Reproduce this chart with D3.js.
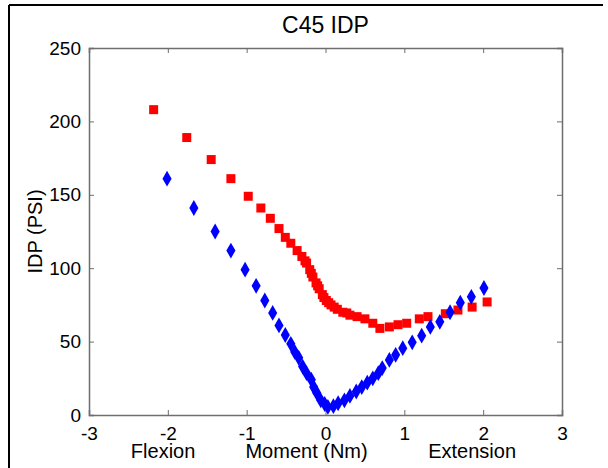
<!DOCTYPE html>
<html>
<head>
<meta charset="utf-8">
<script src="https://cdn.jsdelivr.net/npm/d3@7"></script>
<style>
  body { margin: 0; background: #fff; }
  svg { display: block; font-family: "Liberation Sans", Arial, sans-serif; }
</style>
</head>
<body>
<svg width="608" height="468"></svg>
<script>
// red squares (upper curve)
const redX = [-2.18, -1.76, -1.45, -1.2, -0.98, -0.82, -0.7, -0.59, -0.51, -0.44, -0.36, -0.3, -0.26, -0.24,
  -0.2, -0.18, -0.16, -0.12, -0.1, -0.08, -0.04, -0.02, 0.01, 0.04, 0.07, 0.11, 0.15, 0.22, 0.27, 0.31, 0.4, 0.5, 0.6, 0.69, 0.81, 0.92,
  1.03, 1.19, 1.3, 1.52, 1.68, 1.86, 2.05];
const redY = [208, 189, 174, 161, 149, 141, 134, 127, 121, 117, 112, 108, 105, 103.5,
  99, 96.5, 94, 90, 88, 86, 82, 80, 78, 76.5, 75, 73.5, 72, 70, 69.5, 68, 67, 65.5, 62.5, 59, 60, 61.5,
  62.5, 65.5, 67, 69, 71.5, 73.5, 77];
// blue diamonds (lower curve)
const blueX = [-2.01, -1.67, -1.4, -1.2, -1.02, -0.88, -0.77, -0.67, -0.59, -0.51, -0.44, -0.39, -0.34,
  -0.29, -0.24, -0.18, -0.15, -0.11, -0.06, -0.01, 0.03, 0.1, 0.16, 0.24, 0.31, 0.39, 0.46, 0.53,
  0.6, 0.67, 0.72, 0.81, 0.89, 0.98, 1.1, 1.22, 1.33, 1.45, 1.58, 1.71, 1.85, 2.01];
const blueY = [161, 141, 125, 112, 99, 88, 78, 69.5, 61, 54.5, 48.5, 43, 39,
  33, 28.5, 24, 19, 15, 10, 7.5, 5.5, 6, 8, 10, 13, 16, 19, 22,
  25, 28.5, 32, 37.5, 41, 45.5, 49.5, 54, 60, 63.5, 70, 76.5, 80.5, 86.5];

const xTicks = [-3, -2, -1, 0, 1, 2, 3];
const yTicks = [0, 50, 100, 150, 200, 250];

const svg = d3.select("svg");
const margin = { top: 48, right: 46, bottom: 53, left: 89 };
const width = +svg.attr("width");
const height = +svg.attr("height");
const innerWidth = width - margin.left - margin.right;
const innerHeight = height - margin.top - margin.bottom;

// outer figure frame (left and top edges visible)
svg.append("line").attr("x1", 9).attr("x2", 9).attr("y1", 5).attr("y2", height)
  .attr("stroke", "#000").attr("stroke-width", 2);
svg.append("line").attr("x1", 9).attr("x2", 603).attr("y1", 5).attr("y2", 5)
  .attr("stroke", "#000").attr("stroke-width", 2);

const xScale = d3.scaleLinear().domain([-3, 3]).range([0, innerWidth]);
const yScale = d3.scaleLinear().domain([0, 250]).range([innerHeight, 0]);

const g = svg.append("g").attr("transform", `translate(${margin.left},${margin.top})`);

const axisColor = "#6e6e6e";
const fontSize = 19;

// axes with inward ticks
const xAxis = g.append("g").attr("transform", `translate(0,${innerHeight})`)
  .call(d3.axisBottom(xScale).tickValues(xTicks).tickSize(-5).tickPadding(12).tickFormat(d3.format("d")));
const yAxis = g.append("g")
  .call(d3.axisLeft(yScale).tickValues(yTicks).tickSize(-5).tickPadding(8));
const xTop = g.append("g")
  .call(d3.axisTop(xScale).tickValues(xTicks).tickSize(-5));
const yRight = g.append("g").attr("transform", `translate(${innerWidth},0)`)
  .call(d3.axisRight(yScale).tickValues(yTicks).tickSize(-5));
// top/right only carry tick marks
xTop.selectAll("text").remove();
yRight.selectAll("text").remove();

[xAxis, yAxis, xTop, yRight].forEach(a => {
  a.selectAll(".domain").attr("stroke", axisColor).attr("stroke-width", 1.5);
  a.selectAll(".tick line").attr("stroke", axisColor);
  a.selectAll("text").attr("font-size", fontSize).attr("fill", "#000")
    .attr("font-family", "Liberation Sans, Arial, sans-serif");
});
xAxis.selectAll("text").attr("dy", "0.71em");
// keep a plain hyphen for negatives like the original
xAxis.selectAll(".tick text").text(d => String(d));

// red squares
const sq = 9;
g.selectAll("rect.red")
  .data(redX.map((x, i) => ({ x, y: redY[i] })))
  .enter().append("rect")
  .attr("class", "red")
  .attr("x", d => xScale(d.x) - sq / 2)
  .attr("y", d => yScale(d.y) - sq / 2)
  .attr("width", sq).attr("height", sq)
  .attr("fill", "#ff0000");

// blue diamonds
const dia = d3.symbol().type(d3.symbolDiamond).size(72);
g.selectAll("path.blue")
  .data(blueX.map((x, i) => ({ x, y: blueY[i] })))
  .enter().append("path")
  .attr("class", "blue")
  .attr("d", dia)
  .attr("transform", d => `translate(${xScale(d.x)},${yScale(d.y)})`)
  .attr("fill", "#0000ff");

// title
svg.append("text")
  .attr("x", margin.left + innerWidth / 2).attr("y", 33)
  .attr("text-anchor", "middle").attr("font-size", 23)
  .text("C45 IDP");

// y label
svg.append("text")
  .attr("transform", `translate(42,${margin.top + innerHeight / 2}) rotate(-90)`)
  .attr("text-anchor", "middle").attr("font-size", 20)
  .text("IDP (PSI)");

// x label parts
const xLabels = [
  { t: "Flexion", at: -2.06 },
  { t: "Moment (Nm)", at: -0.24 },
  { t: "Extension", at: 1.86 }
];
g.selectAll("text.xlab").data(xLabels).enter().append("text")
  .attr("class", "xlab")
  .attr("x", d => xScale(d.at)).attr("y", innerHeight + 43)
  .attr("text-anchor", "middle").attr("font-size", 20)
  .text(d => d.t);
</script>
</body>
</html>
